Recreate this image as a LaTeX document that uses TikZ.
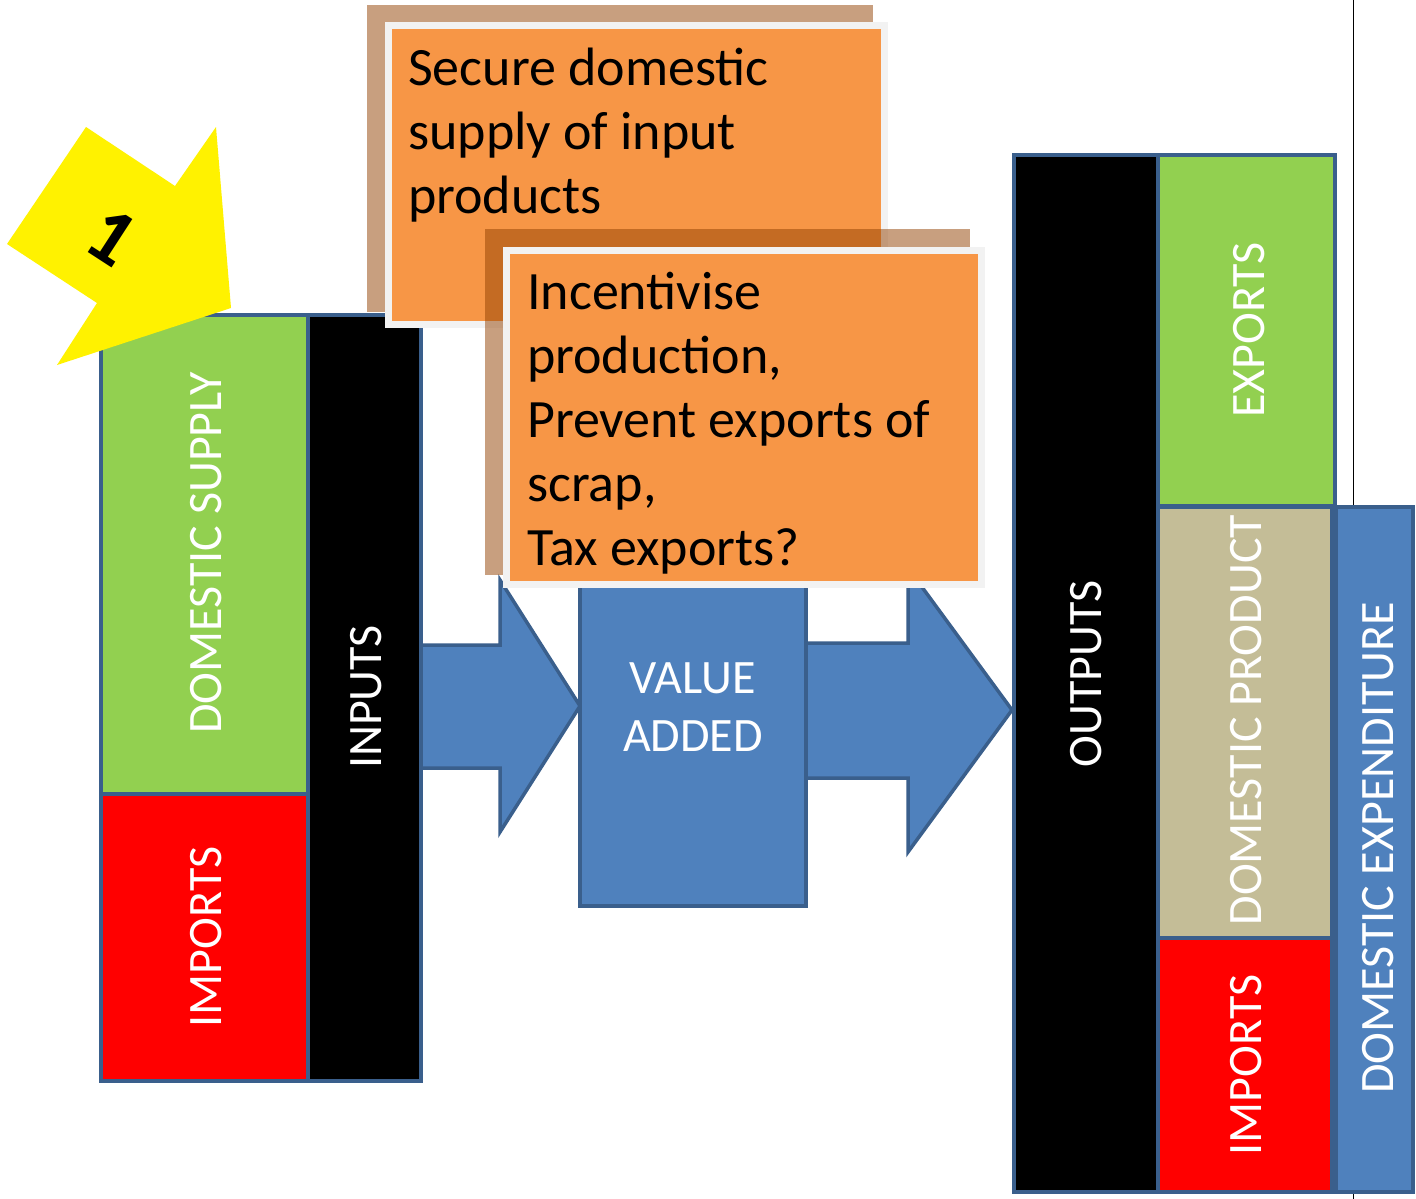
\documentclass[tikz,border=0pt]{standalone}
\usepackage{fontspec}
\setmainfont{Carlito}
\definecolor{bgreen}{HTML}{92D050}
\definecolor{bred}{HTML}{FF0000}
\definecolor{btan}{HTML}{C4BD97}
\definecolor{bblue}{HTML}{4F81BD}
\definecolor{bord}{HTML}{3A5F8C}
\definecolor{borange}{HTML}{F79646}
\definecolor{bwhite}{HTML}{F2F2F2}
\definecolor{shadowc}{RGB}{147,65,1}
\begin{document}
\begin{tikzpicture}[x=1pt,y=-1pt,
  cell/.style={draw=bord,line width=3.5pt},
  vlab/.style={text=white,rotate=90,inner sep=0pt,font=\fontsize{48}{58}\selectfont},
  callout/.style={fill=borange,draw=bwhite,line width=7pt},
  shade/.style={fill=shadowc,fill opacity=0.5},
  blockarrow/.style={fill=bblue,draw=bord,line width=3.5pt,line join=miter},
  note/.style={anchor=north west,align=left,inner sep=0pt,font=\fontsize{54}{64}\selectfont}
]
\useasboundingbox (0,0) rectangle (1416,1199);
\fill[white] (0,0) rectangle (1416,1199);
\draw[line width=1pt] (1353,0) -- (1353,1199);

% block arrows and value added
\draw[blockarrow] (420,645) -- (500,645) -- (500,580) -- (580,706) -- (500,832) -- (500,768) -- (420,768) -- cycle;
\draw[blockarrow] (580,565) rectangle (806,906);
\node[align=center,text=white,inner sep=0pt,font=\fontsize{48}{58}\selectfont] (va) at (693,707) {VALUE\\ADDED};
\draw[blockarrow] (806,643) -- (908,643) -- (908,568) -- (1012,710) -- (908,852) -- (908,778) -- (806,778) -- cycle;

% left group
\draw[cell,fill=bgreen] (101,315) rectangle (308,794);
\draw[cell,fill=bred] (101,794) rectangle (308,1081);
\draw[cell,fill=black] (308,315) rectangle (421,1081);
\node[vlab] (dsup) at (206,553) {DOMESTIC SUPPLY};
\node[vlab] (imp1) at (206,937) {IMPORTS};
\node[vlab] (inp) at (366,697) {INPUTS};

% right group
\draw[cell,fill=black] (1014,155) rectangle (1158,1192);
\draw[cell,fill=bgreen] (1158,155) rectangle (1335,506);
\draw[cell,fill=btan] (1158,507) rectangle (1332,938);
\draw[cell,fill=bred] (1158,938) rectangle (1332,1192);
\draw[cell,fill=bblue] (1336,507) rectangle (1413,1192);
\node[vlab] (outp) at (1086,674) {OUTPUTS};
\node[vlab] (expo) at (1249,330) {EXPORTS};
\node[vlab] (dprod) at (1246,720) {DOMESTIC PRODUCT};
\node[vlab] (imp2) at (1246,1065) {IMPORTS};
\node[vlab] (dexp) at (1378,848) {DOMESTIC EXPENDITURE};

% yellow arrow
\fill[yellow] (86,127) -- (175,186) -- (216,127) -- (231,308) -- (57,365) -- (97,303) -- (7,244) -- cycle;
\node[rotate=-33,inner sep=0pt,font=\bfseries\fontsize{80}{82}\selectfont] (one) at (112,237) {1};

% callout 1
\fill[shade] (367,5) rectangle (873,312);
\draw[callout] (388.5,25.5) rectangle (884.5,324.5);
\node[note] (t1) at (408,48) {Secure domestic\\supply of input\\products};

% callout 2
\fill[shade] (485,229) rectangle (970,575);
\draw[callout] (506,250) rectangle (981,584);
\node[note] (t2) at (527,272) {Incentivise\\production,\\Prevent exports of\\scrap,\\Tax exports?};
\end{tikzpicture}
\end{document}
